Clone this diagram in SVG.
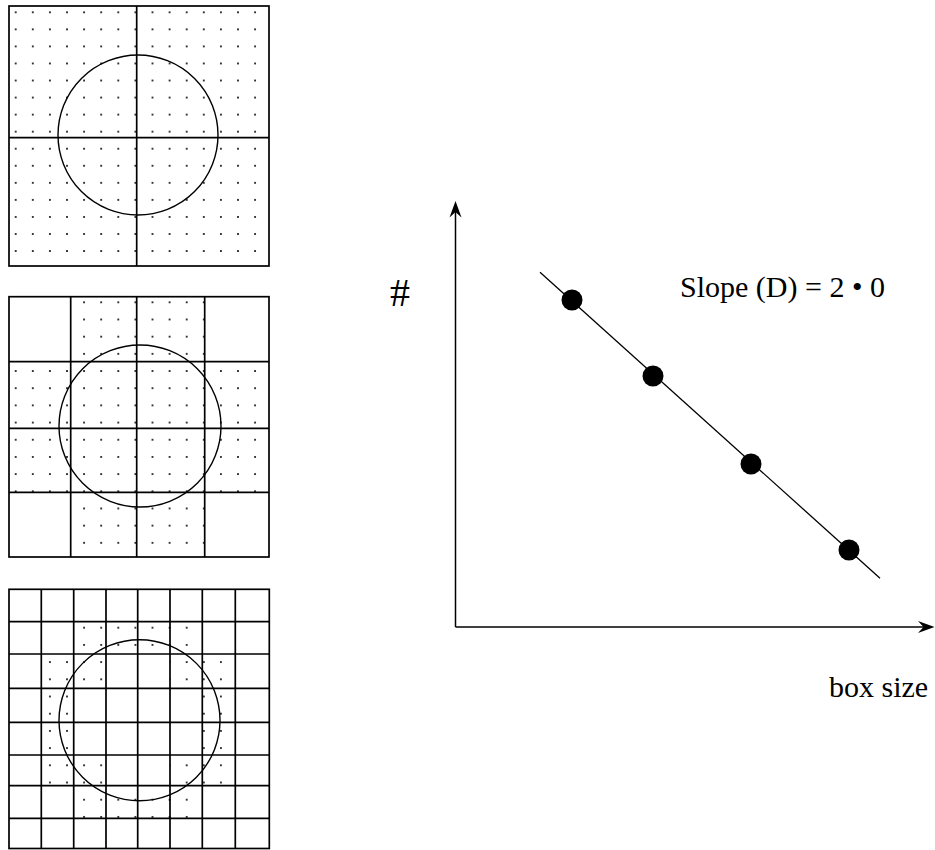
<svg xmlns="http://www.w3.org/2000/svg" width="935" height="850" viewBox="0 0 935 850">
<style>
.ln{stroke:#000;stroke-width:1.7;fill:none}
.cir{stroke:#000;stroke-width:1.4;fill:none}
.lbl{font-family:"Liberation Serif","Times New Roman",serif;fill:#000}
.pt{fill:#000}
</style>
<defs>
<pattern id="dotsTop" patternUnits="userSpaceOnUse" x="7.15" y="3.78" width="17.1" height="17.05">
<rect x="7.7" y="7.7" width="1.7" height="1.7" fill="#000"/>
</pattern>
<pattern id="dotsMid" patternUnits="userSpaceOnUse" x="7.15" y="293.71" width="17.1" height="17.18">
<rect x="7.7" y="7.75" width="1.7" height="1.7" fill="#000"/>
</pattern>
<pattern id="dotsBot" patternUnits="userSpaceOnUse" x="7.15" y="584.7" width="17.1" height="17.2">
<rect x="7.7" y="7.75" width="1.7" height="1.7" fill="#000"/>
</pattern>
</defs>
<rect width="935" height="850" fill="#fff"/>

<g id="panel-top">
<rect x="9" y="6" width="260" height="260" fill="url(#dotsTop)"/>
<rect class="ln" x="9" y="6" width="260" height="260"/>
<line class="ln" x1="136.7" y1="6" x2="136.7" y2="266"/>
<line class="ln" x1="9" y1="137.7" x2="269" y2="137.7"/>
<circle class="cir" cx="138" cy="135" r="80"/>
</g>

<g id="panel-middle">
<rect x="70.7" y="296.7" width="134" height="65" fill="url(#dotsMid)"/>
<rect x="9" y="361.7" width="260" height="130.6" fill="url(#dotsMid)"/>
<rect x="70.7" y="492.3" width="134" height="64.7" fill="url(#dotsMid)"/>
<rect class="ln" x="9" y="296.7" width="260" height="260.3"/>
<line class="ln" x1="70.7" y1="296.7" x2="70.7" y2="557"/>
<line class="ln" x1="136.7" y1="296.7" x2="136.7" y2="557"/>
<line class="ln" x1="204.7" y1="296.7" x2="204.7" y2="557"/>
<line class="ln" x1="9" y1="361.7" x2="269" y2="361.7"/>
<line class="ln" x1="9" y1="428.3" x2="269" y2="428.3"/>
<line class="ln" x1="9" y1="492.3" x2="269" y2="492.3"/>
<circle class="cir" cx="140" cy="426" r="81"/>
</g>

<g id="panel-bottom">
<rect x="73.7" y="621.7" width="128.6" height="32.3" fill="url(#dotsBot)"/>
<rect x="41.3" y="654" width="64.7" height="34.3" fill="url(#dotsBot)"/>
<rect x="170" y="654" width="65.3" height="34.3" fill="url(#dotsBot)"/>
<rect x="41.3" y="688.3" width="32.4" height="66.7" fill="url(#dotsBot)"/>
<rect x="202.3" y="688.3" width="33" height="66.7" fill="url(#dotsBot)"/>
<rect x="41.3" y="755" width="64.7" height="30.7" fill="url(#dotsBot)"/>
<rect x="170" y="755" width="65.3" height="30.7" fill="url(#dotsBot)"/>
<rect x="73.7" y="785.7" width="128.6" height="32.6" fill="url(#dotsBot)"/>
<rect class="ln" x="9" y="589.3" width="260.3" height="259.2"/>
<path class="ln" d="M41.3 589.3V848.5M73.7 589.3V848.5M106 589.3V848.5M137.7 589.3V848.5M170 589.3V848.5M202.3 589.3V848.5M235.3 589.3V848.5"/>
<path class="ln" d="M9 621.7H269.3M9 654H269.3M9 688.3H269.3M9 722.3H269.3M9 755H269.3M9 785.7H269.3M9 818.3H269.3"/>
<circle class="cir" cx="139.5" cy="720.3" r="80.5"/>
</g>

<g id="connectors">
<line class="ln" x1="455.5" y1="208" x2="455.5" y2="627" style="stroke-width:1.5"/>
<polygon points="455.5,201 461.5,217.5 455.5,212 449.5,217.5" fill="#000"/>
<line class="ln" x1="455.5" y1="627" x2="926" y2="627" style="stroke-width:1.5"/>
<polygon points="934.5,627 918,633 923.5,627 918,621" fill="#000"/>
<line x1="540" y1="272.2" x2="880" y2="578.2" stroke="#000" stroke-width="1.3"/>
</g>

<g id="points">
<circle class="pt" cx="572" cy="300" r="10.5"/>
<circle class="pt" cx="653" cy="376" r="10.5"/>
<circle class="pt" cx="751" cy="464" r="10.5"/>
<circle class="pt" cx="849" cy="550" r="10.5"/>
</g>

<g id="labels">
<text class="lbl" x="390" y="306" font-size="40">#</text>
<text class="lbl" x="680" y="297.3" font-size="30">Slope (D) = 2 • 0</text>
<text class="lbl" x="829" y="697" font-size="30">box size</text>
</g>
</svg>
